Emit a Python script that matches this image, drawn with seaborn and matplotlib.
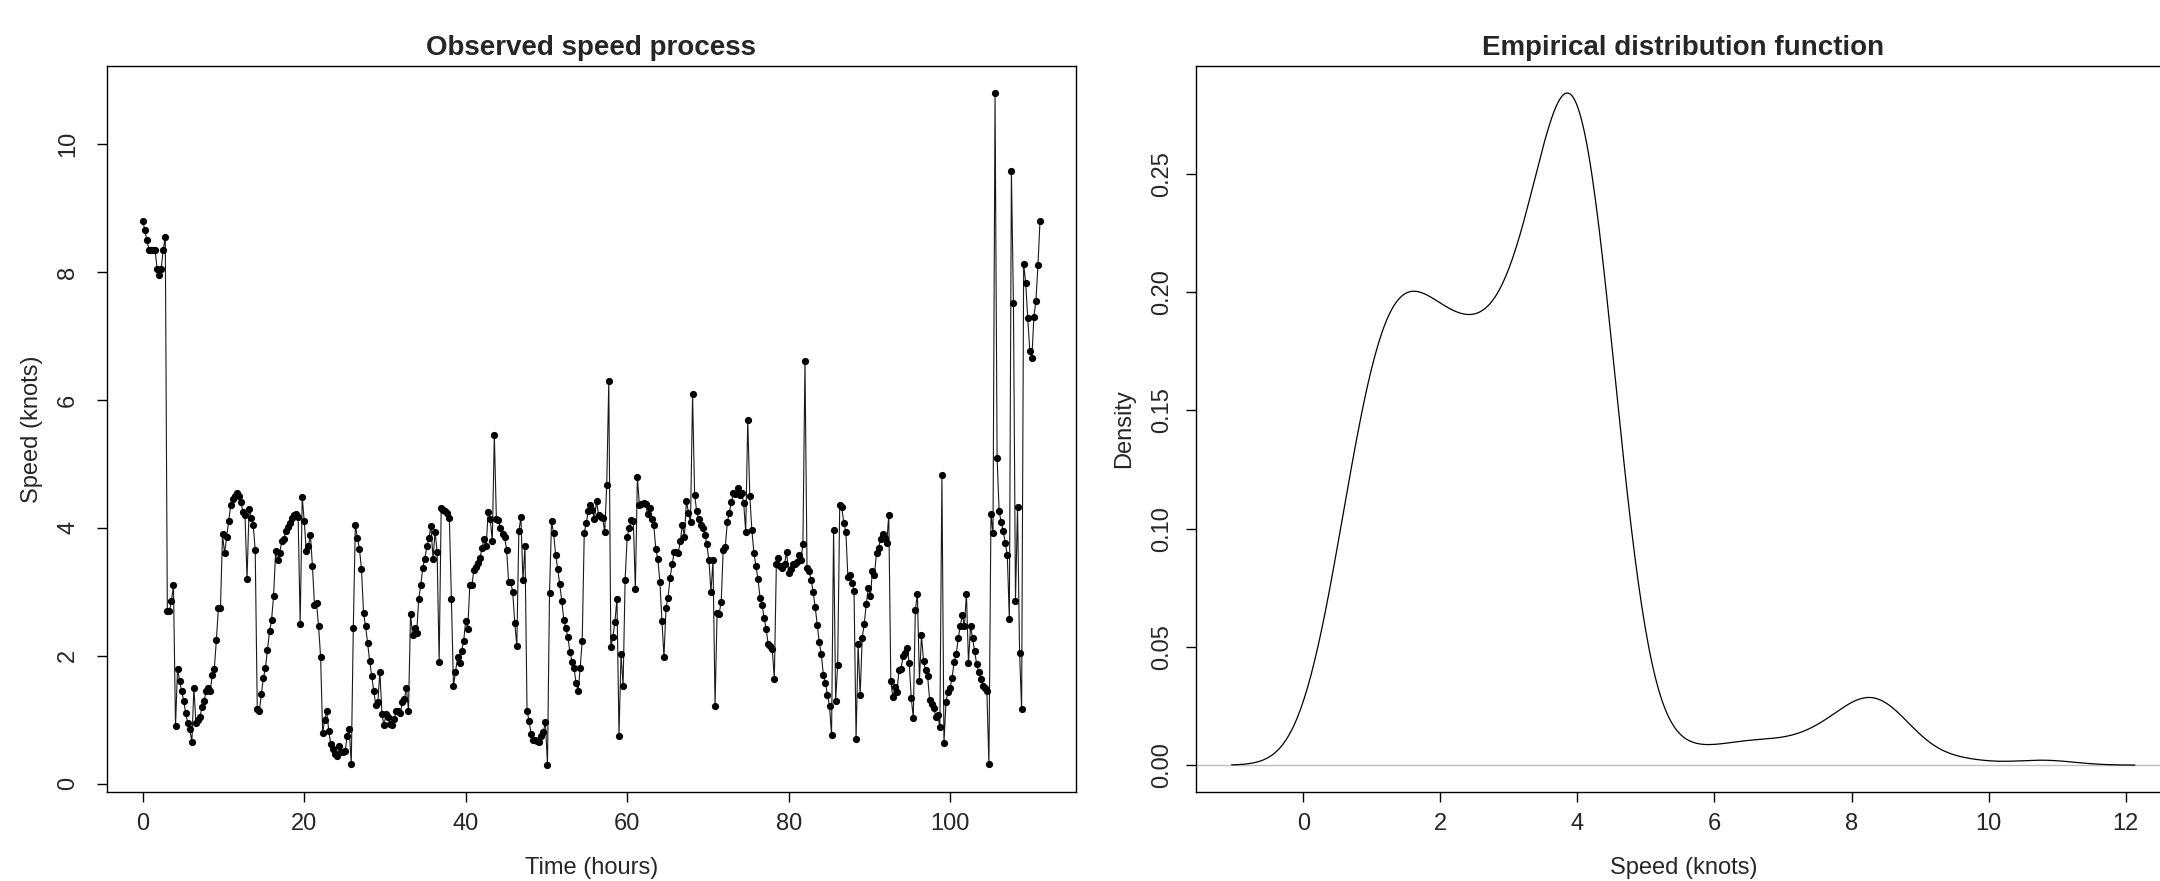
import numpy as np
import pandas as pd
import seaborn as sns
import matplotlib
matplotlib.use('Agg')
import matplotlib.pyplot as plt

# speed readings (knots), one every ~15 min, split in pieces along the time axis
speed_00_14 = [8.8, 8.65, 8.5, 8.35, 8.35, 8.35, 8.35, 8.05, 7.95, 8.05, 8.35, 8.55,
               2.7, 2.7, 2.85, 3.1,
               0.9, 1.8, 1.6, 1.45, 1.3, 1.1, 0.95, 0.85, 0.65,
               1.5, 0.95, 1.0, 1.05, 1.2, 1.3, 1.45, 1.5, 1.45, 1.7, 1.8, 2.25, 2.75, 2.75,
               3.9, 3.6, 3.85, 4.1, 4.35, 4.45, 4.5, 4.55, 4.5, 4.4, 4.25, 4.2, 3.2, 4.3,
               4.15, 4.05, 3.65]
speed_14_29 = [1.17, 1.13, 1.4, 1.65, 1.81, 2.09, 2.38, 2.56, 2.94, 3.64,
               3.5, 3.61, 3.79, 3.83, 3.95, 4.01, 4.08, 4.15, 4.2, 4.21,
               4.17, 2.5, 4.48, 4.1, 3.64, 3.71, 3.89, 3.4, 2.8, 2.82,
               2.46, 1.98, 0.79, 1.0, 1.13, 0.82, 0.62, 0.54, 0.46, 0.43,
               0.59, 0.5, 0.5, 0.51, 0.75, 0.85, 0.31, 2.44, 4.05, 3.84,
               3.67, 3.35, 2.67, 2.46, 2.2, 1.92, 1.68, 1.45, 1.23, 1.28]
speed_29_43 = [1.75, 1.09, 0.91, 1.09, 1.05, 0.93, 0.92, 1.01, 1.13, 1.14,
               1.10, 1.27, 1.33, 1.49, 1.14, 2.66, 2.32, 2.43, 2.35, 2.89,
               3.1, 3.38, 3.52, 3.71, 3.84, 4.03, 3.51, 3.94, 3.63, 1.9,
               4.31, 4.28, 4.26, 4.23, 4.15, 2.88, 1.53, 1.74, 1.98, 1.88,
               2.08, 2.23, 2.55, 2.42, 3.1, 3.1, 3.34, 3.39, 3.45, 3.53,
               3.69, 3.83, 3.72, 4.25, 4.14, 3.79, 5.45]
speed_43_59 = [4.14, 4.12, 3.99, 3.91, 3.86, 3.66, 3.15, 3.15, 3.0, 2.51,
               2.16, 3.95, 4.17, 3.18, 3.71, 1.14, 0.98, 0.77, 0.69, 0.69,
               0.67, 0.65, 0.75, 0.81, 0.96, 0.29, 2.98, 4.1, 3.92, 3.58,
               3.36, 3.12, 2.86, 2.56, 2.43, 2.29, 2.06, 1.91, 1.81, 1.57,
               1.45, 1.81, 2.23, 3.92, 4.08, 4.27, 4.35, 4.28, 4.14, 4.42,
               4.2, 4.17, 4.16, 3.93, 4.67, 6.29, 2.13, 2.29, 2.53, 2.89,
               0.75]
speed_59_73 = [2.03, 1.52, 3.19, 3.86, 4.0, 4.12, 4.11, 3.04, 4.79, 4.35,
               4.37, 4.39, 4.38, 4.21, 4.31, 4.14, 4.05, 3.67, 3.51, 3.16,
               2.55, 1.98, 2.75, 2.91, 3.22, 3.43, 3.62, 3.62, 3.61, 3.79,
               4.05, 3.86, 4.42, 4.24, 4.09, 6.09, 4.52, 4.26, 4.14, 4.05,
               3.99, 3.89, 3.74, 3.49, 3.0, 3.49, 1.22, 2.67, 2.66, 2.84,
               3.66, 3.7, 4.09, 4.24, 4.41, 4.55]
speed_73_89 = [4.53, 4.63, 4.51, 4.54, 4.39, 3.94, 5.69, 4.5, 3.97, 3.61,
               3.40, 3.20, 2.91, 2.8, 2.59, 2.42, 2.18, 2.16, 2.1, 1.64,
               3.44, 3.53, 3.40, 3.37, 3.44, 3.62, 3.29, 3.36, 3.44, 3.44,
               3.46, 3.57, 3.49, 3.75, 6.61, 3.38, 3.33, 3.19, 3.0, 2.76,
               2.48, 2.21, 2.02, 1.70, 1.58, 1.39, 1.22, 0.76, 3.97, 1.30,
               1.86, 4.36, 4.32, 4.08, 3.94, 3.23, 3.27, 3.14, 3.02, 0.70,
               2.18]
speed_89_104 = [1.38, 2.28, 2.5, 2.81, 3.06, 2.93, 3.33, 3.27, 3.61, 3.69,
                3.82, 3.9, 3.84, 3.77, 4.20, 1.6, 1.35, 1.51, 1.44, 1.77,
                1.80, 1.99, 2.04, 2.12, 1.89, 1.34, 1.03, 2.71, 2.97, 1.61,
                2.32, 1.92, 1.78, 1.68, 1.31, 1.25, 1.18, 1.05, 1.08, 0.88,
                4.82, 0.63, 1.28, 1.44, 1.50, 1.66, 1.91, 2.02, 2.28, 2.47,
                2.63, 2.46, 2.97, 1.89, 2.46, 2.28, 2.08, 1.87, 1.74]
speed_104_111 = [1.64, 1.53, 1.49, 1.45, 0.3, 4.21, 3.92, 10.8, 5.10, 4.26,
                 4.09, 3.95, 3.77, 3.57, 2.57, 9.58, 7.51, 2.86, 4.32, 2.05,
                 1.16, 8.13, 7.83, 7.28, 6.77, 6.65, 7.30, 7.55, 8.11, 8.80]

t_start, t_end = 0.0, 111.1   # hours

speed = np.concatenate([speed_00_14, speed_14_29, speed_29_43, speed_43_59,
                        speed_59_73, speed_73_89, speed_89_104, speed_104_111])
df = pd.DataFrame({'time': np.linspace(t_start, t_end, len(speed)), 'speed': speed})

sns.set_theme(style='ticks')
plt.rcParams['font.family'] = ['Liberation Sans', 'DejaVu Sans']

fig = plt.figure(figsize=(21.6, 8.81), dpi=100)
ax1 = fig.add_axes([0.0495, 0.101, 0.4486, 0.824])
ax2 = fig.add_axes([0.5535, 0.101, 0.4516, 0.824])

# left: time series
sns.lineplot(data=df, x='time', y='speed', ax=ax1, color='#1a1a1a', linewidth=0.8,
             marker='o', markersize=5.2, markeredgewidth=0, markerfacecolor='black',
             estimator=None, sort=False)
rng = t_end - t_start
ax1.set_xlim(t_start - 0.04 * rng, t_end + 0.04 * rng)
yr = speed.max() - speed.min()
ax1.set_ylim(speed.min() - 0.04 * yr, speed.max() + 0.04 * yr)
ax1.set_xticks(range(0, 101, 20))
ax1.set_yticks(range(0, 11, 2))
ax1.set_title('Observed speed process', fontsize=20, fontweight='bold', pad=8)
ax1.set_xlabel('Time (hours)', fontsize=17, labelpad=16)
ax1.set_ylabel('Speed (knots)', fontsize=17, labelpad=10)

# right: kernel density (R style bw.nrd0, cut = 3)
n = len(speed)
iqr = np.subtract(*np.percentile(speed, [75, 25]))
bw = 0.9 * min(np.std(speed, ddof=1), iqr / 1.34) * n ** -0.2
sns.kdeplot(x=speed, ax=ax2, bw_method=bw / np.std(speed, ddof=1), cut=3,
            gridsize=512, color='black', linewidth=0.9)
ax2.axhline(0, color='#bebebe', linewidth=1.0, zorder=0)
xd = ax2.lines[0].get_xdata()
yd = ax2.lines[0].get_ydata()
xr = xd.max() - xd.min()
ax2.set_xlim(xd.min() - 0.04 * xr, xd.max() + 0.04 * xr)
ax2.set_ylim(-0.04 * yd.max(), 1.04 * yd.max())
ax2.set_xticks(range(0, 13, 2))
ax2.set_yticks(np.arange(0, 0.26, 0.05))
ax2.set_yticklabels(['%.2f' % v for v in np.arange(0, 0.26, 0.05)])
ax2.set_title('Empirical distribution function', fontsize=20, fontweight='bold', pad=8)
ax2.set_xlabel('Speed (knots)', fontsize=17, labelpad=16)
ax2.set_ylabel('Density', fontsize=17, labelpad=12)

for ax in (ax1, ax2):
    for s in ax.spines.values():
        s.set_visible(True)
        s.set_color('black')
        s.set_linewidth(1.0)
    ax.tick_params(direction='out', length=7, width=1.0, labelsize=17, color='black')
    ax.tick_params(axis='x', pad=8)
    plt.setp(ax.get_yticklabels(), rotation=90, va='center')
ax1.tick_params(axis='y', pad=13)
ax2.tick_params(axis='y', pad=9)

fig.savefig('out.png', dpi=100, facecolor='white')
